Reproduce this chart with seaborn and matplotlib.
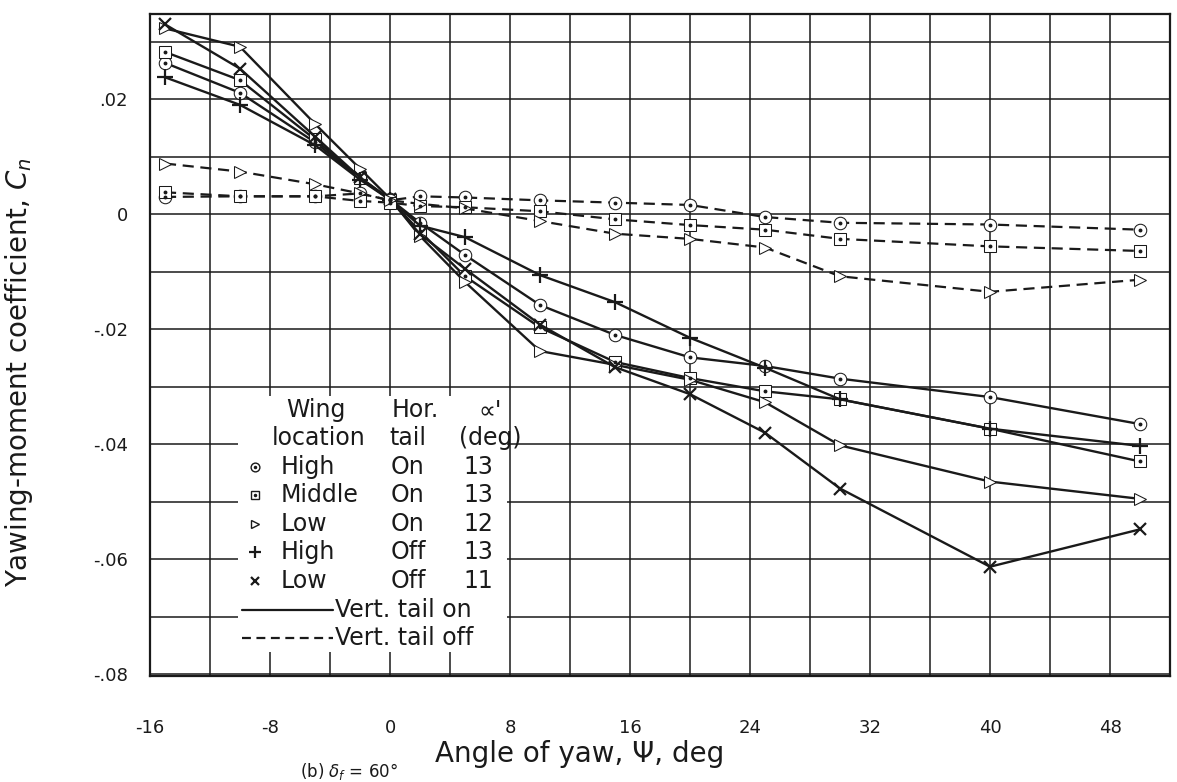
import numpy as np
import pandas as pd
import matplotlib
matplotlib.use("Agg")
import matplotlib.pyplot as plt
import seaborn as sns
from matplotlib.patches import Rectangle

# yaw angles (deg)
yaw = [-15, -10, -5, -2, 0, 2, 5, 10, 15, 20, 25, 30, 40, 50]

# vertical tail on
high_on = [0.0263, 0.0211, 0.0125, 0.0062, 0.0026, -0.0015, -0.0071, -0.0158, -0.0210, -0.0249, -0.0264, -0.0286, -0.0318, -0.0365]
mid_on = [0.0282, 0.0233, 0.0130, 0.0063, 0.0025, -0.0030, -0.0108, -0.0197, -0.0257, -0.0285, -0.0308, -0.0322, -0.0373, -0.0430]
low_on = [0.0323, 0.0291, 0.0157, 0.0079, 0.0027, -0.0038, -0.0118, -0.0238, -0.0262, -0.0288, -0.0327, -0.0402, -0.0465, -0.0495]
high_off = [0.0238, 0.0190, 0.0120, 0.0060, 0.0025, -0.0020, -0.0040, -0.0106, -0.0153, -0.0215, -0.0267, -0.0322, -0.0373, -0.0403]
low_off = [0.0330, 0.0253, 0.0135, 0.0064, 0.0026, -0.0035, -0.0095, -0.0192, -0.0266, -0.0313, -0.0380, -0.0477, -0.0613, -0.0548]

# vertical tail off
high_on_vo = [0.0030, 0.0031, 0.0031, 0.0036, 0.0024, 0.0031, 0.0029, 0.0024, 0.0020, 0.0016, -0.0005, -0.0015, -0.0018, -0.0027]
mid_on_vo = [0.0038, 0.0031, 0.0031, 0.0023, 0.0020, 0.0014, 0.0012, 0.0005, -0.0009, -0.0019, -0.0027, -0.0043, -0.0056, -0.0064]
low_on_vo = [0.0088, 0.0074, 0.0052, 0.0036, 0.0024, 0.0018, 0.0010, -0.0012, -0.0034, -0.0043, -0.0058, -0.0108, -0.0135, -0.0114]

x_ticks = list(range(-16, 53, 4))
y_ticks = [-0.08, -0.07, -0.06, -0.05, -0.04, -0.03, -0.02, -0.01, 0.0, 0.01, 0.02, 0.03]

legend_rows = [("High", "On", "13"), ("Middle", "On", "13"), ("Low", "On", "12"),
               ("High", "Off", "13"), ("Low", "Off", "11")]

sns.set_theme(style="white")
plt.rcParams["font.family"] = ["DejaVu Sans"]
plt.rcParams["text.color"] = "k"
plt.rcParams["axes.labelcolor"] = "k"
plt.rcParams["xtick.color"] = "k"
plt.rcParams["ytick.color"] = "k"

fig = plt.figure(figsize=(11.77, 7.82), dpi=100)
ax = fig.add_axes([150 / 1177, 1 - 676 / 782, 1020 / 1177, 662 / 782])

mk = {"o": dict(marker="o", markersize=9),
      "s": dict(marker="s", markersize=8),
      ">": dict(marker=">", markersize=9),
      "+": dict(marker="+", markersize=12, markeredgewidth=1.6),
      "x": dict(marker="x", markersize=9, markeredgewidth=1.6)}

solid = [(high_on, "o"), (mid_on, "s"), (low_on, ">"), (high_off, "+"), (low_off, "x")]
dashed = [(high_on_vo, "o"), (mid_on_vo, "s"), (low_on_vo, ">")]

for vals, m in solid:
    sns.lineplot(x=yaw, y=vals, ax=ax, color="k", lw=1.7, sort=False,
                 markerfacecolor="white", markeredgecolor="k", zorder=3, **mk[m])
for vals, m in dashed:
    sns.lineplot(x=yaw, y=vals, ax=ax, color="k", lw=1.6, sort=False,
                 linestyle=(0, (5, 3)), markerfacecolor="white",
                 markeredgecolor="k", zorder=3, **mk[m])

# center dots of circles and squares
for vals in [high_on, mid_on, high_on_vo, mid_on_vo]:
    ax.plot(yaw, vals, ls="none", marker="o", ms=1.8, color="k", zorder=4)

ax.set_xlim(-16, 52)
ax.set_ylim(-0.0803, 0.0348)
ax.set_xticks(x_ticks)
ax.set_xticklabels([str(v) if v % 8 == 0 else "" for v in x_ticks])


def ylab(v):
    c = int(round(v * 100))
    if c % 2:
        return ""
    if c == 0:
        return "0"
    return ("-" if c < 0 else "") + ".%02d" % abs(c)


ax.set_yticks(y_ticks)
ax.set_yticklabels([ylab(v) for v in y_ticks])
ax.tick_params(axis="x", length=0, pad=31, labelsize=13, labelcolor="k")
ax.tick_params(axis="y", length=0, pad=16, labelsize=13, labelcolor="k")
ax.grid(True, color="k", lw=1.1)
ax.set_axisbelow(True)
for s in ax.spines.values():
    s.set_color("k")
    s.set_linewidth(1.6)

ax.set_xlabel("Angle of yaw, Ψ, deg", fontsize=20, color="k")
ax.xaxis.set_label_coords((580 - 150) / 1020, (676 - 740) / 662)
ax.set_ylabel(r"Yawing-moment coefficient, $C_n$", fontsize=20, color="k")
ax.yaxis.set_label_coords((35 - 150) / 1020, (676 - 372) / 662)


# legend table, positions in pixels of the figure
def axp(px, py):
    return (px - 150) / 1020, (676 - py) / 662


x0, y0 = axp(238, 652)
x1, y1 = axp(507, 396)
ax.add_patch(Rectangle((x0, y0), x1 - x0, y1 - y0, transform=ax.transAxes,
                       facecolor="white", edgecolor="none", zorder=2))

fs = 17
tk = dict(transform=ax.transAxes, fontsize=fs, va="center", zorder=5, color="k")
ax.text(*axp(316, 410), "Wing", ha="center", **tk)
ax.text(*axp(392, 410), "Hor.", ha="left", **tk)
ax.text(*axp(490, 410), "∝'", ha="center", **tk)
ax.text(*axp(319, 438), "location", ha="center", **tk)
ax.text(*axp(389, 438), "tail", ha="left", **tk)
ax.text(*axp(490, 438), "(deg)", ha="center", **tk)

leg_marks = ["o", "s", ">", "+", "x"]
row_y = [467, 495, 524, 552, 581]
for (name, tail, alpha), m, py in zip(legend_rows, leg_marks, row_y):
    mx, my = axp(255, py)
    small = dict(mk[m])
    small["markersize"] = small["markersize"] * 0.7
    ax.plot([mx], [my], transform=ax.transAxes, color="k", ls="none",
            markerfacecolor="white", markeredgecolor="k", zorder=5, **small)
    if m in ("o", "s"):
        ax.plot([mx], [my], transform=ax.transAxes, color="k", marker="o",
                ms=1.5, zorder=6)
    ax.text(*axp(281, py), name, ha="left", **tk)
    ax.text(*axp(391, py), tail, ha="left", **tk)
    ax.text(*axp(478, py), alpha, ha="center", **tk)

lx0, ly0 = axp(242, 610)
lx1, _ = axp(333, 610)
ax.plot([lx0, lx1], [ly0, ly0], transform=ax.transAxes, color="k", lw=1.6, zorder=5)
ax.text(*axp(335, 610), "Vert. tail on", ha="left", **tk)
lx0, ly0 = axp(242, 638)
ax.plot([lx0, lx1], [ly0, ly0], transform=ax.transAxes, color="k", lw=1.6,
        ls=(0, (4, 2.5)), zorder=5)
ax.text(*axp(335, 638), "Vert. tail off", ha="left", **tk)

fig.text(300 / 1177, 1 - 772 / 782, r"(b) $\delta_f$ = 60°", fontsize=12, va="center",
         color="k")

fig.savefig("out.png", dpi=100)
